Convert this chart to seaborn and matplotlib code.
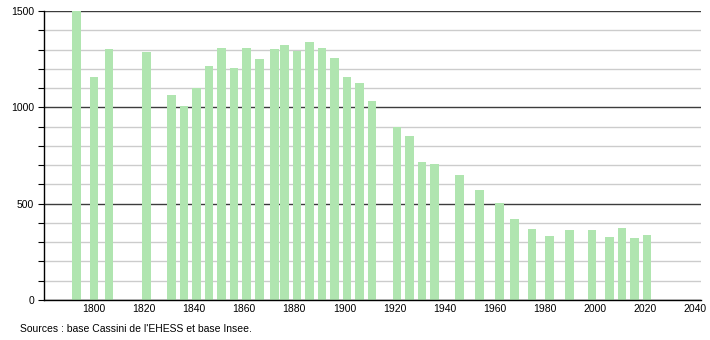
import matplotlib
matplotlib.use("Agg")
import matplotlib.pyplot as plt
import seaborn as sns
import pandas as pd

years = [1793, 1800, 1806, 1821, 1831, 1836, 1841, 1846, 1851, 1856, 1861, 1866,
         1872, 1876, 1881, 1886, 1891, 1896, 1901, 1906, 1911, 1921, 1926, 1931,
         1936, 1946, 1954, 1962, 1968, 1975, 1982, 1990, 1999, 2006, 2011, 2016, 2021]
population = [1500, 1157, 1301, 1287, 1064, 1007, 1099, 1214, 1306, 1202, 1306, 1249,
              1301, 1323, 1292, 1339, 1309, 1256, 1157, 1126, 1033, 899, 853, 715,
              704, 649, 571, 502, 419, 367, 332, 363, 363, 327, 372, 320, 336]
x_ticks = [1800, 1820, 1840, 1860, 1880, 1900, 1920, 1940, 1960, 1980, 2000, 2020, 2040]
y_ticks = [0, 500, 1000, 1500]
source_text = "Sources : base Cassini de l'EHESS et base Insee."

sns.set_theme(style="white")
plt.rcParams['font.family'] = ['Liberation Sans', 'DejaVu Sans']
plt.rcParams['text.color'] = 'black'
plt.rcParams['xtick.color'] = 'black'
plt.rcParams['ytick.color'] = 'black'

df = pd.DataFrame({"year": years, "pop": population})

fig = plt.figure(figsize=(7.1, 3.4), dpi=100)
ax = fig.add_axes([44/710, 1 - 300/340, (701 - 44)/710, (300 - 11)/340])

sns.barplot(data=df, x="year", y="pop", native_scale=True, width=0.85,
            color="#b0e5b0", saturation=1, linewidth=0, ax=ax, errorbar=None)

ax.set_xlim(1780, 2042.5)
ax.set_ylim(0, 1500)
ax.set_xticks(x_ticks)
ax.set_xticklabels([str(t) for t in x_ticks])
ax.set_yticks(y_ticks)
ax.set_yticks(list(range(0, 1501, 100)), minor=True)
ax.set_axisbelow(True)
ax.grid(True, which="minor", axis="y", color="#cccccc", linewidth=1)
ax.grid(True, which="major", axis="y", color="#3c3c3c", linewidth=1)
ax.grid(False, axis="x")

for s in ["top", "right"]:
    ax.spines[s].set_visible(False)
ax.spines["left"].set_color("black")
ax.spines["bottom"].set_color("black")
ax.spines["left"].set_linewidth(1)
ax.spines["bottom"].set_linewidth(1)

ax.tick_params(axis="y", which="both", left=True, length=4, width=0.8, color="black",
               labelsize=7.5, pad=3, labelcolor="black")
ax.tick_params(axis="x", which="both", bottom=False, length=0, labelsize=7.5, pad=3,
               labelcolor="black")
ax.set_xlabel("")
ax.set_ylabel("")

fig.text(20/710, 1 - 329/340, source_text, fontsize=7.5, ha="left", va="center",
         color="black")

fig.savefig("out.png", dpi=100)
